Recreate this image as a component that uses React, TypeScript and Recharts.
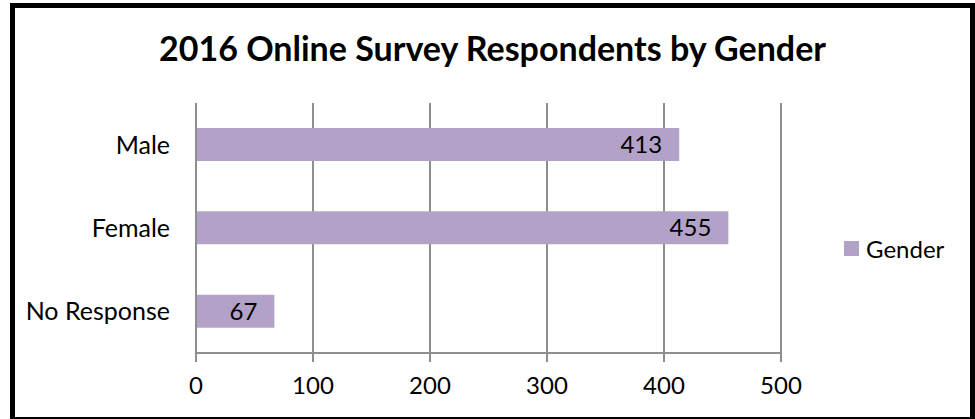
import { BarChart, Bar, XAxis, YAxis, CartesianGrid, Legend, LabelList } from 'recharts';

const categories = ['Male', 'Female', 'No Response'];
const respondents = [413, 455, 67];
const valueTicks = [0, 100, 200, 300, 400, 500];
const bandEdges = [0, 1, 2, 3];

const data = categories.map((name, i) => ({ name, Gender: respondents[i] }));

const gridColor = '#8e8e8e';
const barColor = '#b3a2c7';

function GenderLegend() {
  return (
    <div style={{ display: 'flex', alignItems: 'center', fontSize: 24, color: '#000', whiteSpace: 'nowrap' }}>
      <span style={{ display: 'inline-block', width: 15, height: 15, background: barColor, marginRight: 7 }} />
      <span>Gender</span>
    </div>
  );
}

export default function App() {
  return (
    <div style={{ position: 'absolute', left: 0, top: 0, width: 975, height: 419, overflow: 'hidden', background: '#fff', fontFamily: 'Lato, sans-serif' }}>
      <div
        style={{
          position: 'absolute', left: 10, top: 3, width: 965, height: 419,
          border: '5px solid #000', boxSizing: 'border-box',
        }}
      />
      <div
        style={{
          position: 'absolute', left: 15, top: 27, width: 955, textAlign: 'center',
          fontSize: 34, fontWeight: 700, lineHeight: '41px', color: '#000',
        }}
      >
        2016 Online Survey Respondents by Gender
      </div>
      <div style={{ position: 'absolute', left: 0, top: 0 }}>
        <BarChart
          width={975}
          height={419}
          data={data}
          layout="vertical"
          barCategoryGap="30%"
          margin={{ top: 103, right: 194, bottom: 26, left: 0 }}
        >
          <CartesianGrid horizontal={false} stroke={gridColor} strokeWidth={2} />
          <YAxis
            yAxisId="edges"
            type="number"
            domain={[0, 3]}
            ticks={bandEdges}
            allowDataOverflow
            width={0}
            axisLine={false}
            tick={false}
            tickSize={9}
            tickLine={{ stroke: gridColor, strokeWidth: 2 }}
          />
          <YAxis
            type="category"
            dataKey="name"
            width={196}
            tickLine={false}
            tickSize={0}
            tickMargin={26}
            axisLine={{ stroke: gridColor, strokeWidth: 2 }}
            tick={{ fill: '#000', fontSize: 25 }}
          />
          <XAxis
            type="number"
            domain={[0, 500]}
            ticks={valueTicks}
            height={40}
            tickSize={9}
            tickMargin={15}
            axisLine={{ stroke: gridColor, strokeWidth: 2 }}
            tickLine={{ stroke: gridColor, strokeWidth: 2 }}
            tick={{ fill: '#000', fontSize: 24 }}
          />
          <Legend
            layout="horizontal"
            align="center"
            verticalAlign="middle"
            content={<GenderLegend />}
            wrapperStyle={{ left: 844, top: 234, width: 'auto', height: 'auto' }}
          />
          <Bar dataKey="Gender" fill={barColor} isAnimationActive={false}>
            <LabelList dataKey="Gender" position="insideRight" offset={17} fill="#000" fontSize={24} />
          </Bar>
        </BarChart>
      </div>
    </div>
  );
}
